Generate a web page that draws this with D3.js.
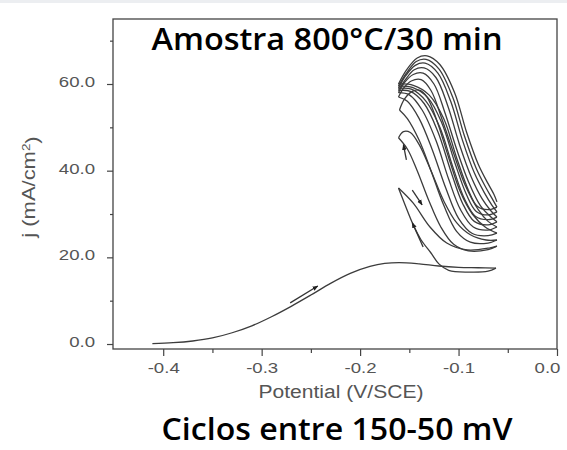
<!DOCTYPE html>
<html>
<head>
<meta charset="utf-8">
<script src="https://cdn.jsdelivr.net/npm/d3@7"></script>
<style>
  body { margin: 0; background: #fff; }
  svg { display: block; }
</style>
</head>
<body>
<div id="chart"></div>
<script>
// axis ticks
const xTicks = [-0.4, -0.3, -0.2, -0.1, 0.0];
const xMinor = [-0.35, -0.25, -0.15, -0.05];
const yTicks = [0, 20, 40, 60];
const yMinor = [10, 30, 50, 70];

// first anodic sweep, [potential V/SCE, j mA/cm2]
const fwd0 = [[-0.411,0.1],[-0.39,0.3],[-0.37,0.7],[-0.35,1.4],[-0.33,2.6],[-0.31,4.2],[-0.29,6.3],[-0.27,8.7],[-0.25,11.3],[-0.23,14.0],[-0.21,16.3],[-0.19,17.9],[-0.175,18.6],[-0.16,18.8],[-0.14,18.5],[-0.12,18.0],[-0.10,17.7],[-0.08,17.6],[-0.062,17.5]];
const rev0 = [[-0.062,17.5],[-0.07,16.8],[-0.09,16.6],[-0.11,17.0],[-0.12,18.5],[-0.128,21],[-0.138,24],[-0.146,27.5],[-0.155,32.5],[-0.161,36]];

// cycles between -0.16 and -0.06 V
const fwd1 = [[-0.161,36],[-0.146,32.5],[-0.129,27],[-0.112,23.3],[-0.091,21.7],[-0.068,22.2],[-0.061,22.6]];
const rev1 = [[-0.061,22.6],[-0.07,21.8],[-0.09,21.5],[-0.105,23],[-0.118,27],[-0.13,33],[-0.142,40],[-0.152,45],[-0.161,47.6]];
const fwd2 = [[-0.161,47.6],[-0.156,49],[-0.149,48.8],[-0.14,46],[-0.128,40],[-0.115,33],[-0.102,28],[-0.088,25.2],[-0.072,24],[-0.061,24]];
const rev2 = [[-0.061,24],[-0.07,23.3],[-0.088,23.5],[-0.102,26],[-0.115,32],[-0.128,40],[-0.14,47],[-0.152,52],[-0.16,54]];
const fwd3 = [[-0.16,54],[-0.155,56.5],[-0.147,58.3],[-0.14,58.6],[-0.132,57],[-0.122,51.5],[-0.11,43],[-0.098,35],[-0.086,30],[-0.073,27],[-0.061,25.6]];
const rev3 = [[-0.061,25.6],[-0.07,25],[-0.086,25.5],[-0.1,29],[-0.113,36],[-0.127,45],[-0.14,52],[-0.152,56],[-0.161,57]];
const fwd4 = [[-0.161,57],[-0.156,59],[-0.148,60.7],[-0.138,61],[-0.128,58.5],[-0.117,52],[-0.105,44],[-0.093,36.5],[-0.08,31],[-0.07,28.3],[-0.061,27]];
const rev4 = [[-0.061,27],[-0.07,26.3],[-0.085,27],[-0.098,31],[-0.11,38],[-0.123,47],[-0.137,54],[-0.15,57.5],[-0.161,58]];
const fwd5 = [[-0.161,58],[-0.155,60.3],[-0.146,62.2],[-0.136,62.5],[-0.125,60],[-0.114,53.5],[-0.102,45],[-0.09,37.5],[-0.078,32],[-0.068,29.5],[-0.061,28.2]];
const rev5 = [[-0.061,28.2],[-0.07,27.5],[-0.084,28.3],[-0.096,32.5],[-0.108,40],[-0.121,49],[-0.135,55.5],[-0.149,58.3],[-0.161,58.5]];
const fwd6 = [[-0.161,58.5],[-0.154,61],[-0.145,63.3],[-0.135,63.7],[-0.123,61.5],[-0.111,55],[-0.099,46],[-0.087,38.5],[-0.076,33.5],[-0.067,30.7],[-0.061,29.3]];
const rev6 = [[-0.061,29.3],[-0.07,28.7],[-0.083,29.5],[-0.094,33.5],[-0.106,41],[-0.119,50],[-0.133,56],[-0.148,58.8],[-0.161,59]];
const fwd7 = [[-0.161,59],[-0.154,61.8],[-0.144,64.3],[-0.134,64.8],[-0.121,62.5],[-0.108,56],[-0.096,47],[-0.084,39.5],[-0.074,35],[-0.066,32],[-0.061,30.5]];
const rev7 = [[-0.061,30.5],[-0.07,29.8],[-0.082,30.6],[-0.092,34.5],[-0.104,42],[-0.117,51],[-0.131,56.8],[-0.147,59.2],[-0.161,59.5]];
const fwd8 = [[-0.161,59.5],[-0.153,62.5],[-0.143,65.2],[-0.133,65.7],[-0.12,63.5],[-0.106,57],[-0.094,48],[-0.082,40.5],[-0.072,36],[-0.065,33.2],[-0.061,31.6]];
const rev8 = [[-0.061,31.6],[-0.07,31],[-0.081,31.8],[-0.09,35.5],[-0.102,43],[-0.115,52],[-0.13,57.5],[-0.146,59.7],[-0.161,60]];
const fwd9 = [[-0.161,60],[-0.153,63.2],[-0.142,66],[-0.132,66.5],[-0.119,64.5],[-0.104,58],[-0.092,49],[-0.08,41.5],[-0.07,37],[-0.064,34.5],[-0.061,32.8]];

// scan direction arrows [from, to]
const arrows = [
  [[-0.271,9.5],[-0.243,13.4]],
  [[-0.153,42.5],[-0.156,46]],
  [[-0.147,35.5],[-0.137,32.1]],
  [[-0.136,22.4],[-0.147,28]]
];

const scans = [fwd0, rev0, fwd1, rev1, fwd2, rev2, fwd3, rev3, fwd4, rev4, fwd5, rev5, fwd6, rev6, fwd7, rev7, fwd8, rev8, fwd9];

const W = 567, H = 450;
const plotLeft = 113, plotRight = 557, plotTop = 19, plotBottom = 349;

const svg = d3.select("#chart").append("svg")
  .attr("width", W).attr("height", H);

svg.append("rect").attr("x", 0).attr("y", 0).attr("width", W).attr("height", 3).attr("fill", "#eceef1");

const x = d3.scaleLinear().domain([-0.451, 0]).range([plotLeft, plotRight]);
const y = d3.scaleLinear().domain([-1.15, 75]).range([plotBottom, plotTop]);

// stretch text a bit wider, the source font is broader than Arial
function widen(sel, k) {
  sel.each(function() {
    const w = this.getComputedTextLength();
    d3.select(this).attr("textLength", w * k).attr("lengthAdjust", "spacingAndGlyphs");
  });
}

const axisColor = "#444";
const labelColor = "#555";

// x axis
const gx = svg.append("g").attr("transform", `translate(0,${plotBottom})`)
  .call(d3.axisBottom(x).tickValues(xTicks).tickSize(7).tickPadding(6)
    .tickFormat(d => d.toFixed(1)));
gx.select(".domain").remove();
gx.selectAll("line").attr("stroke", axisColor).attr("stroke-width", 1.2);
gx.selectAll("text").attr("fill", labelColor).style("font-family", "'Liberation Sans', Arial, sans-serif").style("font-size", "15.5px");
widen(gx.selectAll("text"), 1.2);
gx.selectAll("text").filter(d => d === 0).attr("dx", -10);

const gxm = svg.append("g").attr("transform", `translate(0,${plotBottom})`)
  .call(d3.axisBottom(x).tickValues(xMinor).tickSize(4).tickFormat(""));
gxm.select(".domain").remove();
gxm.selectAll("line").attr("stroke", axisColor).attr("stroke-width", 1.2);

// y axis
const gy = svg.append("g").attr("transform", `translate(${plotLeft},0)`)
  .call(d3.axisLeft(y).tickValues(yTicks).tickSize(6).tickPadding(12)
    .tickFormat(d => d.toFixed(1)));
gy.select(".domain").remove();
gy.selectAll("line").attr("stroke", axisColor).attr("stroke-width", 1.2);
gy.selectAll("text").attr("fill", labelColor).style("font-family", "'Liberation Sans', Arial, sans-serif").style("font-size", "15.5px").attr("dy", "0.15em");
widen(gy.selectAll("text"), 1.2);

const gym = svg.append("g").attr("transform", `translate(${plotLeft},0)`)
  .call(d3.axisLeft(y).tickValues(yMinor).tickSize(3).tickFormat(""));
gym.select(".domain").remove();
gym.selectAll("line").attr("stroke", axisColor).attr("stroke-width", 1.2);

// frame
svg.append("rect")
  .attr("x", plotLeft).attr("y", plotTop)
  .attr("width", plotRight - plotLeft).attr("height", plotBottom - plotTop)
  .attr("fill", "none").attr("stroke", axisColor).attr("stroke-width", 1.3);

// curves
const line = d3.line()
  .x(d => x(d[0]))
  .y(d => y(d[1]))
  .curve(d3.curveCatmullRom.alpha(0.5));

svg.append("g").selectAll("path")
  .data(scans)
  .enter().append("path")
  .attr("d", line)
  .attr("fill", "none")
  .attr("stroke", "#3c3c3c")
  .attr("stroke-width", 1.3);

// arrows
svg.append("defs").append("marker")
  .attr("id", "head")
  .attr("viewBox", "0 0 10 10")
  .attr("refX", 9).attr("refY", 5)
  .attr("markerWidth", 4.5).attr("markerHeight", 4.5)
  .attr("orient", "auto")
  .append("path").attr("d", "M0,1 L10,5 L0,9 Z").attr("fill", "#222");

svg.append("g").selectAll("line")
  .data(arrows)
  .enter().append("line")
  .attr("x1", d => x(d[0][0])).attr("y1", d => y(d[0][1]))
  .attr("x2", d => x(d[1][0])).attr("y2", d => y(d[1][1]))
  .attr("stroke", "#333").attr("stroke-width", 1.3)
  .attr("marker-end", "url(#head)");

// axis titles
const xl = svg.append("text")
  .attr("x", 341).attr("y", 398)
  .attr("text-anchor", "middle")
  .attr("fill", labelColor)
  .style("font-family", "'Liberation Sans', Arial, sans-serif")
  .style("font-size", "18px")
  .text("Potential (V/SCE)");
widen(xl, 1.17);

const yl = svg.append("text")
  .attr("transform", "translate(35,187) rotate(-90)")
  .attr("text-anchor", "middle")
  .attr("fill", labelColor)
  .style("font-family", "'Liberation Sans', Arial, sans-serif")
  .style("font-size", "18px");
yl.append("tspan").text("j (mA/cm");
yl.append("tspan").attr("dy", "-0.45em").style("font-size", "11px").text("2");
yl.append("tspan").attr("dy", "0.45em").text(")");
widen(yl, 1.22);

// title and caption
svg.append("text")
  .attr("x", 327).attr("y", 50)
  .attr("text-anchor", "middle")
  .style("font-family", "'Open Sans', sans-serif")
  .style("font-weight", 600)
  .style("font-size", "31px")
  .attr("textLength", 351).attr("lengthAdjust", "spacingAndGlyphs")
  .text("Amostra 800°C/30 min");

svg.append("text")
  .attr("x", 337).attr("y", 440)
  .attr("text-anchor", "middle")
  .style("font-family", "'Open Sans', sans-serif")
  .style("font-weight", 600)
  .style("font-size", "31px")
  .attr("textLength", 351).attr("lengthAdjust", "spacingAndGlyphs")
  .text("Ciclos entre 150-50 mV");
</script>
</body>
</html>
